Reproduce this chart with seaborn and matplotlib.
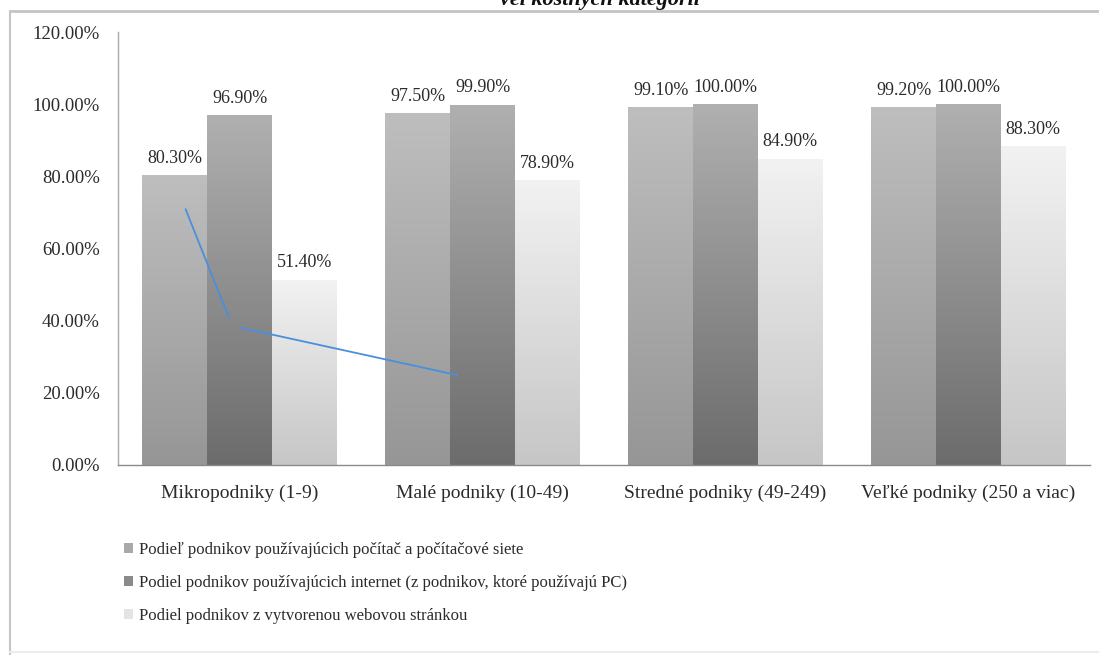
import numpy as np
import pandas as pd
import matplotlib
matplotlib.use("Agg")
import matplotlib.pyplot as plt
from matplotlib.lines import Line2D
from matplotlib.patches import Patch
from matplotlib.ticker import PercentFormatter
from matplotlib.colors import LinearSegmentedColormap
import seaborn as sns

# --- data -------------------------------------------------------------
categories = ["Mikropodniky (1-9)", "Malé podniky (10-49)",
              "Stredné podniky (49-249)", "Veľké podniky (250 a viac)"]
series = ["Podieľ podnikov používajúcich počítač a počítačové siete",
          "Podiel podnikov používajúcich internet (z podnikov, ktoré používajú PC)",
          "Podiel podnikov z vytvorenou webovou stránkou"]
share_pc = [80.3, 97.5, 99.1, 99.2]
share_internet = [96.9, 99.9, 100.0, 100.0]
share_web = [51.4, 78.9, 84.9, 88.3]
y_ticks = [0, 20, 40, 60, 80, 100, 120]
title_text = "veľkostných kategórií"

# hand-drawn connector line over the first groups (category units, %)
connector_a_x = [-0.222, -0.045]
connector_a_y = [70.9, 41.0]
connector_b_x = [0.008, 0.897]
connector_b_y = [38.0, 24.9]

# gradient colours per series (top, bottom)
gradients = [("#bebebe", "#969696"),
             ("#b0b0b0", "#6c6c6c"),
             ("#f2f2f2", "#c6c6c6")]

df = pd.DataFrame({
    "Kategória": categories * 3,
    "Séria": np.repeat(series, len(categories)),
    "Hodnota": share_pc + share_internet + share_web,
})

# --- style ------------------------------------------------------------
sns.set_style("white")
plt.rcParams["font.family"] = ["Liberation Serif", "DejaVu Serif"]
plt.rcParams["text.color"] = "#2b2b2b"

fig = plt.figure(figsize=(10.99, 6.55), dpi=100)
ax = fig.add_axes([0.1074, 0.2901, 0.8844, 0.661])

palette = [g[1] for g in gradients]
sns.barplot(data=df, x="Kategória", y="Hodnota", hue="Séria",
            hue_order=series, order=categories, palette=palette,
            width=0.8, linewidth=0, legend=False, ax=ax)

# vertical gradient fill for each bar, clipped to the bar shape
grad = np.linspace(0, 1, 256).reshape(-1, 1)
for container, (top, bottom) in zip(ax.containers, gradients):
    cmap = LinearSegmentedColormap.from_list("g", [bottom, top])
    for bar in container:
        x0, w, h = bar.get_x(), bar.get_width(), bar.get_height()
        im = ax.imshow(grad, cmap=cmap, aspect="auto", origin="lower",
                       extent=[x0, x0 + w, 0, h], zorder=bar.get_zorder() + 0.1,
                       interpolation="bicubic")
        im.set_clip_path(bar)

# value labels above the bars
for container, vals in zip(ax.containers, [share_pc, share_internet, share_web]):
    ax.bar_label(container, labels=[f"{v:.2f}%" for v in vals], padding=6,
                 fontsize=13, color="#2b2b2b", zorder=5)

ax.plot(connector_a_x, connector_a_y, color="#4a8fdc", lw=1.3, zorder=6)
ax.plot(connector_b_x, connector_b_y, color="#4a8fdc", lw=1.3, zorder=6)

ax.set_xlim(-0.5, len(categories) - 0.5)
ax.set_ylim(0, 120)
ax.set_yticks(y_ticks)
ax.yaxis.set_major_formatter(PercentFormatter(decimals=2))
ax.set_xlabel("")
ax.set_ylabel("")
ax.tick_params(axis="y", length=0, pad=13, labelsize=13.5, labelcolor="#2b2b2b")
ax.tick_params(axis="x", length=0, pad=14, labelsize=14, labelcolor="#2b2b2b")
ax.set_xticks(np.arange(1, len(categories)) - 0.5, minor=True)
ax.tick_params(axis="x", which="minor", length=4, color="#bdbdbd", direction="out")

for side in ("top", "right"):
    ax.spines[side].set_visible(False)
ax.spines["left"].set_color("#a8a8a8")
ax.spines["bottom"].set_color("#8a8a8a")
ax.spines["left"].set_linewidth(1.0)
ax.spines["bottom"].set_linewidth(1.0)

# legend below the plot
handles = [Patch(facecolor=c, edgecolor="none") for c in ["#a9a9a9", "#8a8a8a", "#e4e4e4"]]
fig.legend(handles, series, loc="upper left", bbox_to_anchor=(0.113, 0.172),
           frameon=False, fontsize=12, handlelength=0.55, handleheight=0.55,
           handletextpad=0.35, labelspacing=1.0, borderaxespad=0, borderpad=0)

# chart title, partly cut by the top edge
fig.text(0.546, 1 - 5 / 655, title_text, ha="center", va="baseline",
         fontsize=16, fontweight="bold", fontstyle="italic", color="#111111")

# outer frame lines
fig.add_artist(Line2D([10 / 1099, 1], [1 - 11 / 655, 1 - 11 / 655],
                      transform=fig.transFigure, color="#c4c4c4", lw=2))
fig.add_artist(Line2D([10 / 1099, 10 / 1099], [1 - 11 / 655, 0],
                      transform=fig.transFigure, color="#c4c4c4", lw=1.5))
fig.add_artist(Line2D([10 / 1099, 1], [3 / 655, 3 / 655],
                      transform=fig.transFigure, color="#ececec", lw=1.5))

fig.savefig("out.png", dpi=100, facecolor="white")
